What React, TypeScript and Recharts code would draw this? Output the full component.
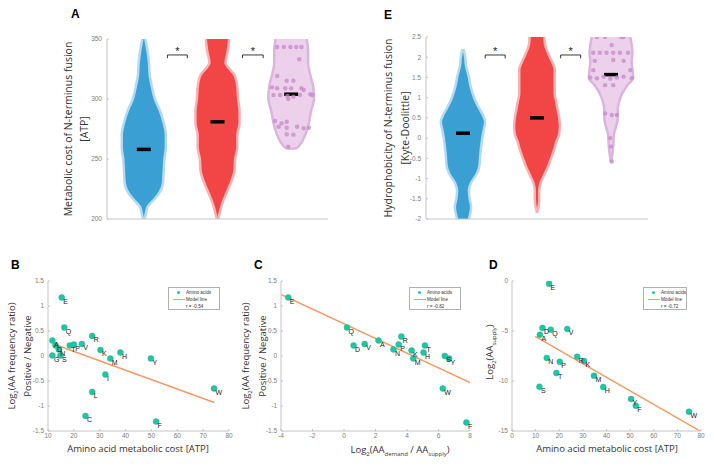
import React from "react";
import {
  ComposedChart,
  Area,
  Line,
  Scatter,
  XAxis,
  YAxis,
  ReferenceDot,
  LabelList,
  Legend
} from "recharts";

/* ---------- FONTS / COLOURS ---------- */

const TICK_FONT = "'Liberation Sans', Arial, sans-serif";
const TEXT_FONT = "'Open Sans', 'Liberation Sans', sans-serif";
const AXIS = "#c4c4c4";
const TICK = "#7d7d7d";
const TEAL = "#1fc6a2";
const ORANGE = "#f79a66";

const violinFill = ["#3a9fd2", "#f24545", "#ecd0ec"];
const violinEdge = ["#b3daf0", "#f8b4b4", "#dcb5dc"];

/* ---------- PANEL A : metabolic cost (value, half width in group units) ---------- */

const costTicks = [200, 250, 300, 350];

const costBlue: [number, number][] = [
  [200, 0.01], [205, 0.03], [210, 0.05], [215, 0.12], [220, 0.19], [230, 0.26],
  [240, 0.27], [250, 0.28], [260, 0.30], [270, 0.30], [280, 0.27], [290, 0.22],
  [300, 0.15], [310, 0.11], [320, 0.08], [330, 0.07], [340, 0.05], [350, 0.02]
];

const costRed: [number, number][] = [
  [200, 0.01], [205, 0.03], [210, 0.05], [220, 0.11], [230, 0.18], [240, 0.23],
  [250, 0.24], [260, 0.27], [270, 0.27], [280, 0.30], [290, 0.30], [300, 0.28],
  [310, 0.27], [320, 0.23], [326, 0.15], [330, 0.11], [340, 0.14], [350, 0.16]
];

const costPurple: [number, number][] = [
  [258.5, 0.0], [259, 0.07], [262, 0.12], [270, 0.19], [280, 0.24], [290, 0.27],
  [300, 0.31], [310, 0.30], [320, 0.26], [330, 0.23], [340, 0.23], [350, 0.21]
];

const costMedians = [258, 281, 304];

// offset from group centre, value
const costPurpleDots: [number, number][] = [
  [-0.19, 343.3], [-0.10, 343.3], [-0.01, 343.3], [0.07, 343.3], [0.14, 343.3],
  [0.11, 333.1], [-0.19, 319.2], [-0.06, 315.3], [0.03, 315.3],
  [-0.26, 309.7], [-0.19, 308.9], [-0.08, 308.9], [0.0, 308.9], [0.14, 308.9], [0.17, 307.5],
  [-0.24, 303.3], [-0.15, 303.3], [-0.05, 302.5], [0.03, 301.9], [0.12, 303.3],
  [0.26, 303.9], [0.29, 303.3], [-0.04, 300.0],
  [-0.22, 281.7], [-0.13, 279.7], [-0.06, 281.1],
  [-0.17, 276.9], [-0.06, 276.1], [0.08, 276.9], [0.17, 275.6], [0.24, 276.1],
  [-0.06, 270.6], [0.03, 270.3], [-0.04, 260.3]
];

const costBrackets: [number, number][] = [[1.32, 1.59], [2.34, 2.62]];

/* ---------- PANEL E : hydrophobicity ---------- */

const hydroTicks = [-2, -1.5, -1, -0.5, 0, 0.5, 1, 1.5, 2, 2.5];

const hydroBlue: [number, number][] = [
  [-2.0, 0.08], [-1.7, 0.11], [-1.5, 0.09], [-1.3, 0.08], [-1.1, 0.11], [-0.9, 0.18],
  [-0.7, 0.22], [-0.5, 0.23], [-0.3, 0.24], [0.0, 0.26], [0.2, 0.28], [0.4, 0.30],
  [0.6, 0.26], [0.8, 0.20], [1.0, 0.15], [1.3, 0.10], [1.5, 0.08], [1.8, 0.04],
  [2.0, 0.03], [2.2, 0.01]
];

const hydroRed: [number, number][] = [
  [-1.85, 0.0], [-1.7, 0.02], [-1.5, 0.03], [-1.3, 0.03], [-1.1, 0.05], [-0.9, 0.10],
  [-0.7, 0.15], [-0.5, 0.19], [-0.3, 0.23], [-0.1, 0.26], [0.1, 0.30], [0.3, 0.31],
  [0.5, 0.30], [0.7, 0.28], [0.9, 0.26], [1.1, 0.24], [1.3, 0.24], [1.5, 0.24],
  [1.7, 0.24], [1.9, 0.20], [2.1, 0.15], [2.3, 0.11], [2.5, 0.10]
];

const hydroPurple: [number, number][] = [
  [-0.6, 0.0], [-0.5, 0.01], [-0.2, 0.03], [0.1, 0.04], [0.3, 0.07], [0.5, 0.09],
  [0.7, 0.09], [0.9, 0.11], [1.1, 0.15], [1.3, 0.22], [1.5, 0.30], [1.7, 0.29],
  [1.9, 0.28], [2.1, 0.29], [2.3, 0.28], [2.5, 0.26]
];

const hydroMedians = [0.12, 0.5, 1.57];

const hydroPurpleDots: [number, number][] = [
  [-0.19, 2.5], [-0.08, 2.5], [0.14, 2.5], [0.17, 2.5], [0.01, 2.3],
  [-0.24, 2.11], [-0.15, 2.11], [-0.06, 2.11], [0.03, 2.11], [0.12, 2.11], [0.23, 2.11],
  [-0.22, 1.91], [0.03, 1.93], [0.17, 1.91], [-0.24, 1.68], [0.26, 1.68],
  [-0.28, 1.5], [-0.19, 1.48], [-0.10, 1.52], [-0.01, 1.47], [0.08, 1.5], [0.17, 1.52], [0.28, 1.48],
  [-0.08, 1.31], [0.03, 1.31], [-0.08, 0.61], [0.01, 0.57], [0.08, 0.57],
  [-0.01, 0.0], [0.0, -0.21], [0.01, -0.58]
];

const hydroBrackets: [number, number][] = [[1.30, 1.57], [2.32, 2.59]];

/* ---------- PANELS B / C / D : amino acids ---------- */

const aaB = ["E", "Q", "A", "D", "N", "G", "S", "T", "P", "V", "R", "L", "C", "K", "I", "M", "H", "Y", "F", "W"];
const costB = [15.3, 16.3, 11.7, 12.9, 14.2, 11.7, 14.8, 18.4, 20.0, 23.1, 27.1, 27.1, 24.5, 30.3, 32.2, 34.1, 38.0, 49.8, 51.8, 74.2];
const ratioB = [1.17, 0.57, 0.31, 0.21, 0.13, 0.01, 0.01, 0.21, 0.23, 0.24, 0.40, -0.72, -1.2, 0.12, -0.37, -0.05, 0.07, -0.05, -1.31, -0.65];
const fitB = [{ x: 12.4, y: 0.235 }, { x: 74.3, y: -0.93 }];

const aaC = ["E", "Q", "D", "V", "A", "N", "P", "R", "K", "M", "H", "T", "S", "Y", "W", "F"];
const demandC = [-3.54, 0.19, 0.61, 1.31, 2.19, 3.14, 3.47, 3.64, 4.29, 4.40, 5.05, 5.14, 6.40, 6.67, 6.27, 7.77];
const ratioC = [1.17, 0.57, 0.21, 0.24, 0.31, 0.13, 0.23, 0.39, 0.11, -0.05, 0.07, 0.21, 0.0, -0.05, -0.65, -1.33];
const fitC = [{ x: -4, y: 1.23 }, { x: 8, y: -0.53 }];

const aaD = ["E", "D", "Q", "V", "A", "R", "K", "N", "P", "T", "M", "S", "H", "Y", "F", "W"];
const costD = [15.7, 12.9, 16.4, 23.4, 11.8, 27.6, 30.5, 14.7, 20.2, 18.8, 34.7, 11.6, 38.6, 50.4, 52.4, 74.9];
const supplyD = [-0.27, -4.7, -4.87, -4.8, -5.37, -7.57, -8.0, -7.7, -8.07, -9.2, -9.47, -10.57, -10.6, -11.8, -12.47, -13.07];
const fitD = [{ x: 9.8, y: -5.53 }, { x: 80, y: -15.05 }];

/* ---------- HELPERS ---------- */

const toViolin = (center: number, prof: [number, number][]) =>
  prof.map(([v, w]) => ({ v, w: [center - w, center + w] }));

const toDots = (center: number, dots: [number, number][]) =>
  dots.map(([dx, v]) => ({ x: center + dx, v }));

const toPoints = (aa: string[], xs: number[], ys: number[]) =>
  aa.map((a, i) => ({ aa: a, x: xs[i], y: ys[i] }));

const tickStyle = { fontSize: 6.5, fill: TICK, fontFamily: TICK_FONT };

function VLabel({ x, y, size, children }: any) {
  return (
    <div
      style={{
        position: "absolute",
        left: x,
        top: y,
        transform: "translate(-50%,-50%) rotate(-90deg)",
        whiteSpace: "nowrap",
        fontSize: size,
        fontFamily: TEXT_FONT,
        color: "#333",
        lineHeight: 1
      }}
    >
      {children}
    </div>
  );
}

function HLabel({ x, y, size, children }: any) {
  return (
    <div
      style={{
        position: "absolute",
        left: x,
        top: y,
        transform: "translate(-50%,-50%)",
        whiteSpace: "nowrap",
        fontSize: size,
        fontFamily: TEXT_FONT,
        color: "#333",
        lineHeight: 1
      }}
    >
      {children}
    </div>
  );
}

function PanelLetter({ x, y, children }: any) {
  return (
    <div
      style={{
        position: "absolute",
        left: x,
        top: y,
        fontSize: 12,
        fontWeight: "bold",
        fontFamily: TICK_FONT,
        lineHeight: 1
      }}
    >
      {children}
    </div>
  );
}

/* ---------- VIOLIN PANEL ---------- */

function ViolinPanel({ left, yDomain, yTicks, margin, yWidth, profiles, medians, dots, brackets, bracketTop, bracketLow, starV }: any) {
  return (
    <div style={{ position: "absolute", left, top: 0 }}>
      <ComposedChart layout="vertical" width={357} height={240} margin={margin}>
        <XAxis
          type="number"
          dataKey="x"
          domain={[0.5, 3.5]}
          ticks={[1, 2, 3]}
          allowDataOverflow
          tick={false}
          tickSize={-2}
          height={2}
          stroke={AXIS}
        />
        <YAxis
          type="number"
          dataKey="v"
          domain={yDomain}
          ticks={yTicks}
          interval={0}
          reversed
          allowDataOverflow
          width={yWidth}
          tickSize={-2}
          tickMargin={7}
          tick={tickStyle}
          stroke={AXIS}
        />
        {profiles.map((p: [number, number][], i: number) => (
          <Area
            key={"v" + i}
            data={toViolin(i + 1, p)}
            dataKey="w"
            type="monotone"
            fill={violinFill[i]}
            fillOpacity={1}
            stroke={violinEdge[i]}
            strokeWidth={2.5}
            isAnimationActive={false}
          />
        ))}
        <Scatter
          data={toDots(3, dots)}
          isAnimationActive={false}
          shape={(p: any) => (
            <circle cx={p.cx} cy={p.cy} r={2.2} fill="#c68ac8" fillOpacity={0.75} />
          )}
        />
        {medians.map((m: number, i: number) => (
          <Line
            key={"m" + i}
            data={[{ v: m, x: i + 1 - 0.095 }, { v: m, x: i + 1 + 0.095 }]}
            dataKey="x"
            stroke="#000"
            strokeWidth={3.5}
            dot={false}
            isAnimationActive={false}
          />
        ))}
        {brackets.map(([l, r]: [number, number], i: number) => (
          <Line
            key={"b" + i}
            data={[
              { v: bracketLow, x: l },
              { v: bracketTop, x: l },
              { v: bracketTop, x: r },
              { v: bracketLow, x: r }
            ]}
            dataKey="x"
            type="linear"
            stroke="#222"
            strokeWidth={0.9}
            dot={false}
            isAnimationActive={false}
          />
        ))}
        {brackets.map(([l, r]: [number, number], i: number) => (
          <ReferenceDot
            key={"s" + i}
            x={(l + r) / 2}
            y={starV}
            r={0}
            stroke="none"
            label={{ value: "*", position: "center", fontSize: 11, fill: "#222", fontFamily: TICK_FONT }}
          />
        ))}
      </ComposedChart>
    </div>
  );
}

/* ---------- SCATTER PANEL ---------- */

function AALabel(p: any) {
  const vb = p.viewBox || p;
  const cx = vb.x + (vb.width || 0) / 2;
  const cy = vb.y + (vb.height || 0) / 2;
  return (
    <text x={cx + 1.5} y={cy + 6} fontSize={7} fill="#222" fontFamily={TICK_FONT}>
      {p.value}
    </text>
  );
}

function legendContent(r: string, w: number) {
  const row = { display: "flex", alignItems: "center", whiteSpace: "nowrap" as const };
  const sym = { width: 15, flex: "none", display: "inline-flex", justifyContent: "center" };
  return () => (
    <div
      style={{
        width: w,
        height: 23,
        boxSizing: "border-box",
        border: "0.6px solid #b0b0b0",
        background: "#fff",
        fontFamily: TICK_FONT,
        fontSize: 4.6,
        color: "#333",
        lineHeight: "7px",
        paddingTop: 1,
        paddingLeft: 2
      }}
    >
      <div style={row}>
        <span style={sym}>
          <span style={{ width: 3.6, height: 3.6, borderRadius: "50%", background: TEAL }} />
        </span>
        <span>Amino acids</span>
      </div>
      <div style={row}>
        <span style={sym}>
          <span style={{ width: 12, height: 1.2, background: ORANGE }} />
        </span>
        <span>Model line</span>
      </div>
      <div style={{ ...row, paddingLeft: 15 }}>{r}</div>
    </div>
  );
}

function ScatterPanel({ left, width, margin, yWidth, xDomain, xTicks, yDomain, yTicks, points, fit, r, legendLeft, legendWidth }: any) {
  return (
    <div style={{ position: "absolute", left, top: 260 }}>
      <ComposedChart width={width} height={207} margin={margin}>
        <XAxis
          type="number"
          dataKey="x"
          domain={xDomain}
          ticks={xTicks}
          interval={0}
          allowDataOverflow
          height={20}
          tickSize={-2}
          tickMargin={4}
          tick={tickStyle}
          stroke={AXIS}
        />
        <YAxis
          type="number"
          domain={yDomain}
          ticks={yTicks}
          interval={0}
          allowDataOverflow
          width={yWidth}
          tickSize={-2}
          tickMargin={6}
          tick={tickStyle}
          stroke={AXIS}
        />
        <Line
          data={fit}
          dataKey="y"
          name="Model line"
          type="linear"
          stroke={ORANGE}
          strokeWidth={1.5}
          dot={false}
          isAnimationActive={false}
        />
        <Scatter
          data={points}
          dataKey="y"
          name="Amino acids"
          fill={TEAL}
          isAnimationActive={false}
          shape={(p: any) => (
            <circle cx={p.cx} cy={p.cy} r={3} fill={TEAL} stroke="#17b08f" strokeWidth={0.4} />
          )}
        >
          <LabelList dataKey="aa" content={AALabel} />
        </Scatter>
        <Legend
          layout="horizontal"
          verticalAlign="middle"
          align="center"
          content={legendContent(r, legendWidth)}
          wrapperStyle={{ left: legendLeft, top: 27, width: legendWidth }}
        />
      </ComposedChart>
    </div>
  );
}

/* ---------- APP ---------- */

export default function App() {
  return (
    <div
      style={{
        position: "absolute",
        left: 0,
        top: 0,
        width: 714,
        height: 467,
        background: "#fff",
        overflow: "hidden"
      }}
    >
      <ViolinPanel
        left={0}
        yDomain={[200, 350]}
        yTicks={costTicks}
        margin={{ top: 39, right: 29, bottom: 19, left: 0 }}
        yWidth={107}
        profiles={[costBlue, costRed, costPurple]}
        medians={costMedians}
        dots={costPurpleDots}
        brackets={costBrackets}
        bracketTop={336.7}
        bracketLow={334}
        starV={340}
      />
      <ViolinPanel
        left={357}
        yDomain={[-2, 2.5]}
        yTicks={hydroTicks}
        margin={{ top: 37, right: 66, bottom: 19, left: 0 }}
        yWidth={69}
        profiles={[hydroBlue, hydroRed, hydroPurple]}
        medians={hydroMedians}
        dots={hydroPurpleDots}
        brackets={hydroBrackets}
        bracketTop={2.055}
        bracketLow={1.97}
        starV={2.16}
      />

      <ScatterPanel
        left={0}
        width={240}
        margin={{ top: 21, right: 11, bottom: 16, left: 0 }}
        yWidth={48}
        xDomain={[10, 80]}
        xTicks={[10, 20, 30, 40, 50, 60, 70, 80]}
        yDomain={[-1.5, 1.5]}
        yTicks={[-1.5, -1, -0.5, 0, 0.5, 1, 1.5]}
        points={toPoints(aaB, costB, ratioB)}
        fit={fitB}
        r="r = -0.54"
        legendLeft={168}
        legendWidth={52}
      />
      <ScatterPanel
        left={240}
        width={240}
        margin={{ top: 21, right: 10, bottom: 16, left: 0 }}
        yWidth={41}
        xDomain={[-4, 8]}
        xTicks={[-4, -2, 0, 2, 4, 6, 8]}
        yDomain={[-1.5, 1.5]}
        yTicks={[-1.5, -1, -0.5, 0, 0.5, 1, 1.5]}
        points={toPoints(aaC, demandC, ratioC)}
        fit={fitC}
        r="r = -0.82"
        legendLeft={169}
        legendWidth={52}
      />
      <ScatterPanel
        left={480}
        width={234}
        margin={{ top: 21, right: 13, bottom: 16, left: 0 }}
        yWidth={32}
        xDomain={[0, 80]}
        xTicks={[0, 10, 20, 30, 40, 50, 60, 70, 80]}
        yDomain={[-15, 0]}
        yTicks={[-15, -10, -5, 0]}
        points={toPoints(aaD, costD, supplyD)}
        fit={fitD}
        r="r = -0.72"
        legendLeft={163}
        legendWidth={44}
      />

      <PanelLetter x={71} y={8}>A</PanelLetter>
      <PanelLetter x={384} y={9}>E</PanelLetter>
      <PanelLetter x={11} y={259}>B</PanelLetter>
      <PanelLetter x={254} y={259}>C</PanelLetter>
      <PanelLetter x={489} y={259}>D</PanelLetter>

      <VLabel x={68} y={129} size={10.5}>Metabolic cost of N-terminus fusion</VLabel>
      <VLabel x={84} y={129} size={10.5}>[ATP]</VLabel>
      <VLabel x={388} y={128} size={10.5}>Hydrophobicity of N-terminus fusion</VLabel>
      <VLabel x={405} y={128} size={10.5}>[Kyte-Doolittle]</VLabel>

      <VLabel x={13} y={356} size={9.5}>
        Log<sub style={{ fontSize: 6 }}>2</sub>(AA frequency ratio)
      </VLabel>
      <VLabel x={28} y={356} size={9.5}>Positive / Negative</VLabel>
      <VLabel x={247} y={356} size={9.5}>
        Log<sub style={{ fontSize: 6 }}>2</sub>(AA frequency ratio)
      </VLabel>
      <VLabel x={263} y={356} size={9.5}>Positive / Negative</VLabel>
      <VLabel x={491} y={352} size={9.5}>
        Log<sub style={{ fontSize: 6 }}>2</sub>(AA<sub style={{ fontSize: 6 }}>supply</sub>)
      </VLabel>

      <HLabel x={138} y={449} size={9.5}>Amino acid metabolic cost [ATP]</HLabel>
      <HLabel x={400} y={451} size={9.5}>
        Log<sub style={{ fontSize: 6 }}>2</sub>(AA<sub style={{ fontSize: 6 }}>demand</sub> / AA<sub style={{ fontSize: 6 }}>supply</sub>)
      </HLabel>
      <HLabel x={607} y={449} size={9.5}>Amino acid metabolic cost [ATP]</HLabel>
    </div>
  );
}
